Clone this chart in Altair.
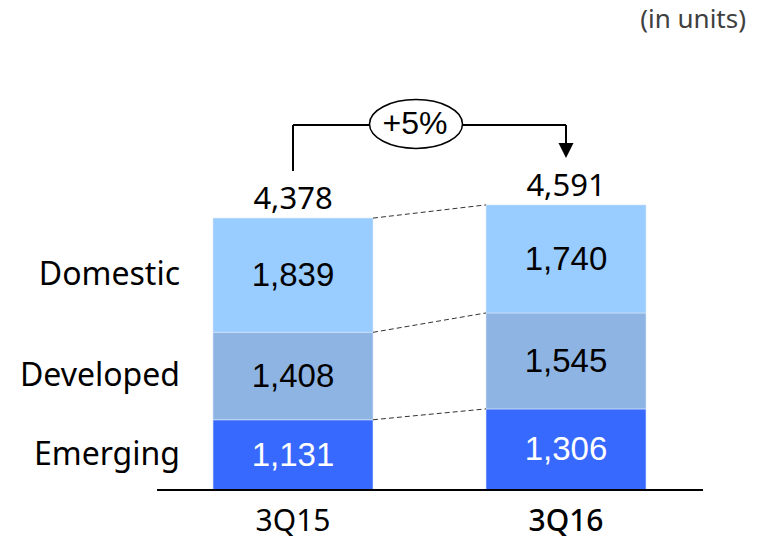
import altair as alt
import pandas as pd

# ---- data ----
quarters = ["3Q15", "3Q16"]
segments = ["Emerging", "Developed", "Domestic"]
emerging = [1131, 1306]
developed = [1408, 1545]
domestic = [1839, 1740]
totals = [4378, 4591]
growth_label = "+5%"
unit_note = "(in units)"

seg_colors = ["#3869FF", "#8EB4E3", "#99CCFF"]

# ---- long table with stacked extents ----
rows = []
for qi, q in enumerate(quarters):
    base = 0
    for seg, vals in zip(segments, [emerging, developed, domestic]):
        v = vals[qi]
        rows.append({
            "qi": qi, "quarter": q, "segment": seg, "value": v,
            "y0": base, "y1": base + v, "mid": base + v / 2,
            "label": f"{v:,}",
        })
        base += v
seg_df = pd.DataFrame(rows)

tot_df = pd.DataFrame({"qi": range(len(quarters)), "quarter": quarters,
                       "total": totals, "label": [f"{t:,}" for t in totals]})

# dashed links between the cumulative levels of the two bars
levels_a = seg_df[seg_df.qi == 0]["y1"].tolist()
levels_b = seg_df[seg_df.qi == 1]["y1"].tolist()
link_df = pd.DataFrame({"a": 0, "b": 1, "v1": levels_a, "v2": levels_b})

bracket_df = pd.DataFrame({"a": [0], "b": [1], "label": [growth_label]})

# ---- scales ----
BAR_W = 160
xscale = alt.Scale(domain=[0, 1], range=[293, 566], padding=0)
yscale = alt.Scale(domain=[0, 7890], range=[490, 0])
sans = "Noto Sans"
BR_Y = 125

def xq(field):
    return alt.X(f"{field}:Q", scale=xscale, axis=None)

bars = alt.Chart(seg_df).mark_bar(width=BAR_W, stroke="#DCE8FA", strokeWidth=0.6).encode(
    x=xq("qi"),
    y=alt.Y("y0:Q", scale=yscale, axis=None),
    y2="y1:Q",
    color=alt.Color("segment:N", scale=alt.Scale(domain=segments, range=seg_colors),
                    legend=None),
)

seg_text_light = alt.Chart(seg_df).transform_filter(
    alt.datum.segment == "Emerging"
).mark_text(font="Liberation Sans", fontSize=33, baseline="middle", dy=1,
            color="#FFFFFF").encode(
    x=xq("qi"), y=alt.Y("mid:Q", scale=yscale), text="label:N")

seg_text_dark = alt.Chart(seg_df).transform_filter(
    alt.datum.segment != "Emerging"
).mark_text(font="Liberation Sans", fontSize=33, baseline="middle", dy=1,
            color="#000000").encode(
    x=xq("qi"), y=alt.Y("mid:Q", scale=yscale), text="label:N")

row_labels = alt.Chart(seg_df).transform_filter(
    alt.datum.qi == 0
).mark_text(font=sans, fontSize=32, align="right", baseline="middle",
            color="#000000").encode(
    x=alt.value(180), y=alt.Y("mid:Q", scale=yscale), text="segment:N")

tot_text = alt.Chart(tot_df).mark_text(
    font=sans, fontSize=31, baseline="alphabetic", dy=-9, color="#000000"
).encode(x=xq("qi"), y=alt.Y("total:Q", scale=yscale), text="label:N")

links = alt.Chart(link_df).mark_rule(
    strokeDash=[5, 3], color="#333333", strokeWidth=1,
    xOffset=BAR_W / 2, x2Offset=-BAR_W / 2,
).encode(
    x=xq("a"), x2="b:Q",
    y=alt.Y("v1:Q", scale=yscale), y2="v2:Q",
)

cat_first = alt.Chart(tot_df).transform_filter(alt.datum.qi == 0).mark_text(
    font=sans, fontSize=30, baseline="middle", color="#000000"
).encode(x=xq("qi"), y=alt.value(522), text="quarter:N")

cat_last = alt.Chart(tot_df).transform_filter(alt.datum.qi == 1).mark_text(
    font=sans, fontSize=30, fontWeight=500, baseline="middle", color="#000000"
).encode(x=xq("qi"), y=alt.value(522), text="quarter:N")

baseline = alt.Chart(tot_df).mark_rule(color="#000000", strokeWidth=2).encode(
    x=alt.value(157), x2=alt.value(703), y=alt.value(490))

# growth bracket
br = alt.Chart(bracket_df)
left_leg = br.mark_rule(color="#000000", strokeWidth=2).encode(
    x=xq("a"), y=alt.value(BR_Y), y2=alt.value(171))
top_bar = br.mark_rule(color="#000000", strokeWidth=2).encode(
    x=xq("a"), x2="b:Q", y=alt.value(BR_Y))
right_leg = br.mark_rule(color="#000000", strokeWidth=2).encode(
    x=xq("b"), y=alt.value(BR_Y), y2=alt.value(144))
arrow = br.mark_point(shape="M -1 -1 L 1 -1 L 0 1 Z", size=225, filled=True,
                      color="#000000", opacity=1).encode(
    x=xq("b"), y=alt.value(150.5))
ellipse_path = ("M 1 0 C 1 0.29 0.5523 0.525 0 0.525 C -0.5523 0.525 -1 0.29 -1 0 "
                "C -1 -0.29 -0.5523 -0.525 0 -0.525 C 0.5523 -0.525 1 -0.29 1 0 Z")
ellipse = br.mark_point(shape=ellipse_path, size=8649, filled=True, fill="#FFFFFF",
                        stroke="#000000", strokeWidth=1.5, opacity=1,
                        xOffset=123).encode(
    x=xq("a"), y=alt.value(BR_Y - 1))
growth = br.mark_text(font="Liberation Sans", fontSize=32, baseline="middle",
                      xOffset=122, dy=-1, color="#000000").encode(
    x=xq("a"), y=alt.value(BR_Y), text="label:N")

note = br.mark_text(
    font=sans, fontSize=26, align="right", baseline="middle", color="#404040",
    text=unit_note).encode(x=alt.value(746), y=alt.value(20))

chart = alt.layer(
    bars, links, seg_text_light, seg_text_dark, row_labels, tot_text,
    cat_first, cat_last, baseline, left_leg, top_bar, right_leg, arrow,
    ellipse, growth, note,
).properties(
    width=764, height=540, autosize=alt.AutoSizeParams(type="none"), padding=0,
).configure(background="#FFFFFF").configure_view(stroke=None)

chart.save("out.html", embed_options={"renderer": "svg", "actions": False})
